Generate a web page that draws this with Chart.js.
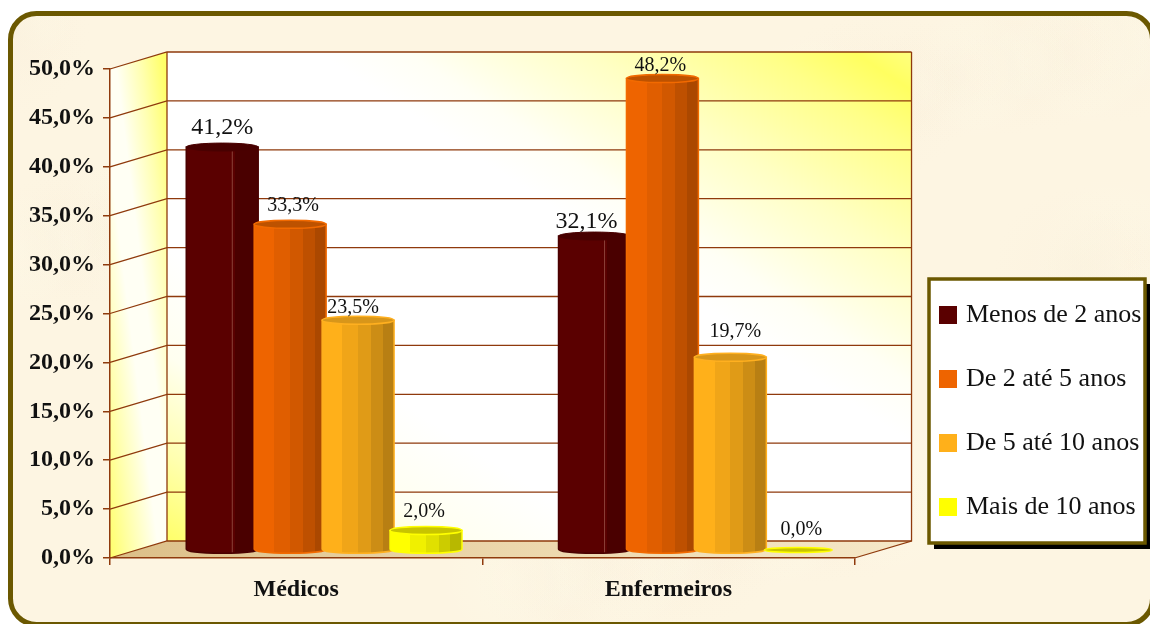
<!DOCTYPE html>
<html lang="pt">
<head>
<meta charset="utf-8">
<title>Tempo de serviço</title>
<style>
  html, body { margin: 0; padding: 0; background: #fff; overflow: hidden; }
  canvas { display: block; }
</style>
<script src="https://cdn.jsdelivr.net/npm/chart.js@4/dist/chart.umd.js"></script>
</head>
<body>
<canvas id="grafico" width="1150" height="624"></canvas>
<script>
// dados
const categorias = ['Médicos', 'Enfermeiros'];
const nomesSeries = ['Menos de 2 anos', 'De 2 até 5 anos', 'De 5 até 10 anos', 'Mais de 10 anos'];
const menos2 = [41.2, 32.1];
const de2a5 = [33.3, 48.2];
const de5a10 = [23.5, 19.7];
const mais10 = [2.0, 0.0];
const series = [menos2, de2a5, de5a10, mais10];

// aparencia de cada serie
const cores = ['#5a0000', '#ee6400', '#ffb01a', '#ffff00'];
const contornos = ['#4a0000', '#f26a00', '#ffb020', '#ffff00'];
const tampas = ['#470000', '#bd5200', '#d8961a', '#c8c400'];

// rotulos: tamanho da letra e deslocamento [dx, dy] de cada barra
const rotuloFonte = [[24, 24], [20, 20], [20, 20], [20, 20]];
const rotuloAjuste = [
  [[0, -19], [-8, -14]],
  [[3, -19], [-2, -13]],
  [[-5, -12], [5, -26]],
  [[-2, -19], [3, -20]]
];

// profundidade do grafico 3D
const fundoX = 57, fundoY = -17;
const barraX = 28, barraY = -8;

const serif = '"Liberation Serif", "Times New Roman", serif';
const corEixo = '#8f3a0c';

const faixas = [[0, .28, 1], [.28, .5, .94], [.5, .68, .88], [.68, .84, .8], [.84, 1, .72]];

function escurece(hex, f) {
  const n = parseInt(hex.slice(1), 16);
  const r = Math.round((n >> 16 & 255) * f);
  const g = Math.round((n >> 8 & 255) * f);
  const b = Math.round((n & 255) * f);
  return `rgb(${r},${g},${b})`;
}

function moldura(ctx) {
  ctx.beginPath();
  ctx.roundRect(10.5, 13.5, 1142, 611, 26);
}

// fundo tipo pergaminho com a moldura arredondada
function desenhaFundo(ctx) {
  ctx.fillStyle = '#fff';
  ctx.fillRect(0, 0, 1150, 624);
  ctx.save();
  moldura(ctx);
  ctx.clip();
  ctx.fillStyle = '#fdf5e2';
  ctx.fillRect(0, 0, 1150, 624);
  for (let i = 0; i < 90; i++) {
    const x = (i * 283 + 40) % 1150;
    const y = (i * 157 + 25) % 624;
    const r = 30 + (i * 37) % 60;
    const g = ctx.createRadialGradient(x, y, 0, x, y, r);
    const cor = i % 3 === 0 ? '255,252,235' : '250,240,220';
    g.addColorStop(0, `rgba(${cor},.35)`);
    g.addColorStop(1, `rgba(${cor},0)`);
    ctx.fillStyle = g;
    ctx.fillRect(x - r, y - r, r * 2, r * 2);
  }
  ctx.restore();
  moldura(ctx);
  ctx.lineWidth = 5;
  ctx.strokeStyle = '#6b5800';
  ctx.stroke();
}

function poligono(ctx, pts) {
  ctx.beginPath();
  pts.forEach((p, i) => i ? ctx.lineTo(p[0], p[1]) : ctx.moveTo(p[0], p[1]));
  ctx.closePath();
}

// paredes, chao e grelha em perspetiva, a partir das escalas
function desenhaParedes(chart) {
  const ctx = chart.ctx;
  const { left, right, top, bottom } = chart.chartArea;
  const bx0 = left + fundoX, bx1 = right + fundoX;
  const by0 = top + fundoY, by1 = bottom + fundoY;

  // parede do fundo: amarelo nos cantos, branco na diagonal
  let g = ctx.createLinearGradient(314, 638, 764, -46);
  g.addColorStop(0, '#ffff68');
  g.addColorStop(.09, '#ffffb0');
  g.addColorStop(.19, '#fffff0');
  g.addColorStop(.3, '#ffffff');
  g.addColorStop(.6, '#ffffff');
  g.addColorStop(.66, '#fffff5');
  g.addColorStop(.78, '#ffffc4');
  g.addColorStop(.9, '#ffff88');
  g.addColorStop(.96, '#ffff60');
  g.addColorStop(1, '#ffff80');
  ctx.fillStyle = g;
  ctx.fillRect(bx0, by0, bx1 - bx0, by1 - by0);

  // parede lateral
  g = ctx.createLinearGradient(82, 320, 194, 306);
  g.addColorStop(0, '#ffff70');
  g.addColorStop(.2, '#ffffb0');
  g.addColorStop(.42, '#fffff4');
  g.addColorStop(.58, '#fffff4');
  g.addColorStop(.8, '#ffffb0');
  g.addColorStop(1, '#ffff68');
  ctx.fillStyle = g;
  poligono(ctx, [[left, top], [bx0, by0], [bx0, by1], [left, bottom]]);
  ctx.fill();

  // chao
  g = ctx.createLinearGradient(left, 0, bx1, 0);
  g.addColorStop(0, '#dcbf88');
  g.addColorStop(.5, '#ecd7ac');
  g.addColorStop(1, '#f6e8c8');
  ctx.fillStyle = g;
  poligono(ctx, [[left, bottom], [right, bottom], [bx1, by1], [bx0, by1]]);
  ctx.fill();

  // grelha
  ctx.strokeStyle = corEixo;
  ctx.lineWidth = 1.3;
  chart.scales.y.ticks.forEach(t => {
    const y = chart.scales.y.getPixelForValue(t.value);
    ctx.beginPath();
    ctx.moveTo(left, y);
    ctx.lineTo(bx0, y + fundoY);
    ctx.lineTo(bx1, y + fundoY);
    ctx.stroke();
  });
  ctx.beginPath();
  ctx.moveTo(bx0, by0);
  ctx.lineTo(bx0, by1);
  ctx.moveTo(bx1, by0);
  ctx.lineTo(bx1, by1);
  ctx.lineTo(right, bottom);
  ctx.stroke();
}

// caixa da legenda com sombra
function desenhaCaixaLegenda(ctx) {
  ctx.fillStyle = '#000';
  ctx.fillRect(934, 284, 217, 265);
  ctx.fillStyle = '#fff';
  ctx.fillRect(929, 279, 216, 264);
  ctx.strokeStyle = '#6b5800';
  ctx.lineWidth = 3.5;
  ctx.strokeRect(929, 279, 216, 264);
}

// cilindro de uma barra, usando a posicao calculada pelo Chart.js
function desenhaCilindro(ctx, el, s) {
  const { x, y, base, width } = el.getProps(['x', 'y', 'base', 'width'], true);
  const esq = x - width / 2, dir = x + width / 2;
  const ry = 4;

  if (base - y > 1) {
    const g = ctx.createLinearGradient(esq, 0, dir, 0);
    faixas.forEach(f => {
      const c = s === 0 ? escurece(cores[s], f[0] < .6 ? 1 : .82) : escurece(cores[s], f[2]);
      g.addColorStop(f[0], c);
      g.addColorStop(f[1], c);
    });
    ctx.beginPath();
    ctx.moveTo(esq, y);
    ctx.lineTo(esq, base);
    ctx.ellipse(x, base, width / 2, ry, 0, Math.PI, 0, true);
    ctx.lineTo(dir, y);
    ctx.closePath();
    ctx.fillStyle = g;
    ctx.fill();
    ctx.strokeStyle = contornos[s];
    ctx.lineWidth = 1.5;
    ctx.stroke();

    // aresta clara da barra escura
    if (s === 0) {
      const xa = esq + width * .64;
      ctx.beginPath();
      ctx.moveTo(xa, y + ry);
      ctx.lineTo(xa, base + ry - 1);
      ctx.strokeStyle = 'rgba(255,215,190,.3)';
      ctx.lineWidth = 1;
      ctx.stroke();
    }
  }

  ctx.beginPath();
  ctx.ellipse(x, y, width / 2 - (base - y > 1 ? 0 : 2), base - y > 1 ? ry : 2.5, 0, 0, Math.PI * 2);
  ctx.fillStyle = tampas[s];
  ctx.fill();
  ctx.strokeStyle = contornos[s];
  ctx.lineWidth = s === 0 ? 1 : 1.5;
  ctx.stroke();
}

const pluginCena = {
  id: 'cena',
  beforeDraw(chart) {
    desenhaFundo(chart.ctx);
    desenhaParedes(chart);
    desenhaCaixaLegenda(chart.ctx);
  },
  // a legenda fica dentro da sua caixa
  afterLayout(chart) {
    const leg = chart.legend;
    const pad = leg.options.labels.padding;
    leg.left = 943 - pad;
    leg.top = 302 - pad;
    leg.right = 1150;
    leg.bottom = 624;
  },
  // as barras sao desenhadas em baixo, da primeira para a ultima
  beforeDatasetDraw() {
    return false;
  },
  afterDatasetsDraw(chart) {
    const ctx = chart.ctx;
    ctx.save();
    ctx.translate(barraX, barraY);
    series.forEach((valores, s) => {
      chart.getDatasetMeta(s).data.forEach(el => desenhaCilindro(ctx, el, s));
    });
    ctx.restore();

    ctx.save();
    ctx.fillStyle = '#111';
    ctx.textAlign = 'center';
    ctx.textBaseline = 'middle';
    series.forEach((valores, s) => {
      chart.getDatasetMeta(s).data.forEach((el, c) => {
        const aj = rotuloAjuste[s][c];
        ctx.font = `${rotuloFonte[s][c]}px ${serif}`;
        ctx.fillText(formata(valores[c]), el.x + barraX + aj[0], el.y + barraY + aj[1]);
      });
    });
    ctx.restore();
  }
};

function formata(v) {
  return v.toFixed(1).replace('.', ',') + '%';
}

new Chart(document.getElementById('grafico'), {
  type: 'bar',
  data: {
    labels: categorias,
    datasets: series.map((valores, s) => ({
      label: nomesSeries[s],
      data: valores,
      backgroundColor: cores[s],
      borderColor: cores[s],
      borderWidth: 8,
      barPercentage: 72 / 68,
      categoryPercentage: 0.73
    }))
  },
  plugins: [pluginCena],
  options: {
    responsive: false,
    animation: false,
    layout: { padding: { top: 69, right: 49, left: 0, bottom: 0 } },
    scales: {
      x: {
        afterFit(s) { s.height = 66; },
        border: { color: corEixo, width: 1.5 },
        grid: { drawOnChartArea: false, color: corEixo, tickLength: 7, lineWidth: 1.5 },
        ticks: {
          color: '#111',
          padding: 10,
          maxRotation: 0,
          font: { family: serif, size: 24, weight: 'bold' }
        }
      },
      y: {
        min: 0,
        max: 50,
        afterFit(s) { s.width = 110; },
        border: { color: corEixo, width: 1.5 },
        grid: { drawOnChartArea: false, color: corEixo, tickLength: 7, lineWidth: 1.5 },
        ticks: {
          stepSize: 5,
          color: '#111',
          padding: 8,
          font: { family: serif, size: 24, weight: 'bold' },
          callback: v => formata(v)
        }
      }
    },
    plugins: {
      tooltip: { enabled: false },
      legend: {
        position: 'right',
        align: 'start',
        labels: {
          boxWidth: 10,
          boxHeight: 10,
          padding: 38,
          color: '#111',
          font: { family: serif, size: 26 }
        }
      }
    }
  }
});
</script>
</body>
</html>
